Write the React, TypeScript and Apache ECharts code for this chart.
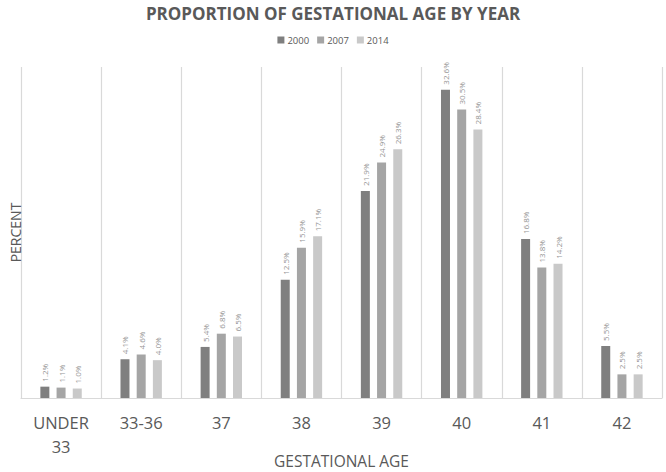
import React, { useEffect, useRef } from "react";
import * as echarts from "echarts";

const categories = ["UNDER\n33", "33-36", "37", "38", "39", "40", "41", "42"];
const seriesNames = ["2000", "2007", "2014"];
const values2000 = [1.2, 4.1, 5.4, 12.5, 21.9, 32.6, 16.8, 5.5];
const values2007 = [1.1, 4.6, 6.8, 15.9, 24.9, 30.5, 13.8, 2.5];
const values2014 = [1.0, 4.0, 6.5, 17.1, 26.3, 28.4, 14.2, 2.5];
const colors = ["#7f7f7f", "#a5a5a5", "#c9c9c9"];

export default function App() {
  const ref = useRef<HTMLDivElement>(null);
  useEffect(() => {
    document.body.style.margin = "0";
    if (!ref.current) return;
    const chart = echarts.init(ref.current, null, { renderer: "svg" });
    const font = "'Open Sans', sans-serif";
    const all = [values2000, values2007, values2014];
    chart.setOption({
      animation: false,
      backgroundColor: "#ffffff",
      title: {
        text: "PROPORTION OF GESTATIONAL AGE BY YEAR",
        left: "center",
        top: 0,
        textStyle: { fontFamily: font, fontSize: 17, fontWeight: "bold", color: "#595959" },
      },
      legend: {
        top: 30,
        left: "center",
        itemWidth: 7,
        itemHeight: 7,
        itemGap: 8,
        icon: "rect",
        textStyle: { fontFamily: font, fontSize: 9.5, color: "#595959", padding: [0, 0, 0, -2] },
        data: seriesNames,
      },
      grid: { left: 21, right: 4, top: 67, bottom: 74, containLabel: false, outerBoundsMode: "none" },
      xAxis: {
        type: "category",
        data: categories,
        name: "GESTATIONAL AGE",
        nameLocation: "middle",
        nameGap: 55,
        nameMoveOverlap: false,
        nameTextStyle: { fontFamily: font, fontSize: 15.5, color: "#595959" },
        axisLine: { lineStyle: { color: "#d9d9d9", width: 1.2 } },
        axisTick: { show: false },
        splitLine: { show: true, lineStyle: { color: "#d9d9d9", width: 1.2 } },
        axisLabel: {
          fontFamily: font,
          fontSize: 16.5,
          color: "#595959",
          lineHeight: 24,
          margin: 12,
          interval: 0,
        },
      },
      yAxis: {
        type: "value",
        min: 0,
        max: 35,
        name: "PERCENT",
        nameLocation: "middle",
        nameGap: -1,
        nameMoveOverlap: false,
        nameTextStyle: { fontFamily: font, fontSize: 14, color: "#595959" },
        axisLine: { show: false },
        axisTick: { show: false },
        axisLabel: { show: false },
        splitLine: { show: false },
      },
      series: seriesNames.map((name, i) => ({
        name,
        type: "bar",
        data: all[i],
        barWidth: 9,
        barGap: "80%",
        itemStyle: { color: colors[i] },
        label: {
          show: true,
          position: "top",
          rotate: 90,
          align: "left",
          verticalAlign: "middle",
          distance: 5,
          fontFamily: font,
          fontSize: 8,
          color: "#939393",
          formatter: (p: any) => p.value.toFixed(1) + "%",
        },
      })),
    });
    return () => chart.dispose();
  }, []);
  return <div ref={ref} style={{ width: 666, height: 472 }} />;
}
